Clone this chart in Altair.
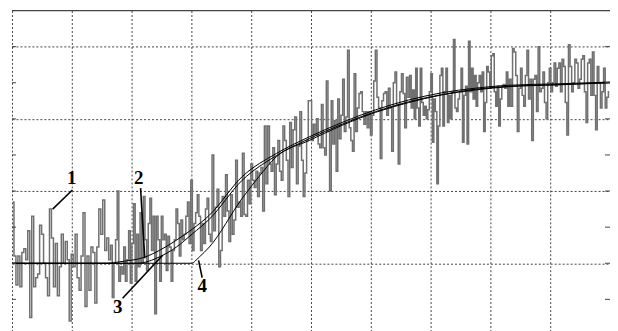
import altair as alt
import pandas as pd

# ---- noisy measured signal (curve 1), read segment by segment ----
seg_edges = [0.0, 1.65, 3.317, 4.983, 6.65, 8.317, 10.0]
sig_a = [3.7, 2.2, 1.4, 2.2, 1.35, 2.3, 2.4, 2.1, 2.9, 0.5, 3.3, 1.35, 1.6, 1.7, 3.05, 2.8, 2.0, 1.6, 1.1, 3.5,
         2.7, 1.35, 2.55, 1.1, 1.9, 2.8, 2.0, 2.6, 2.1, 0.4, 2.25, 1.9, 2.8, 1.6, 1.25, 2.2, 3.4, 0.8, 2.2, 1.25,
         2.45, 2.3, 0.9, 2.45, 3.5, 2.8, 3.75, 2.35, 2.7, 2.1]
sig_b = [2.5, 1.05, 2.0, 2.65, 4.0, 1.5, 1.9, 1.7, 2.45, 1.5, 2.1, 2.9, 1.45, 2.55, 3.65, 1.5, 2.8, 1.9, 3.4, 2.0,
         3.85, 2.65, 1.8, 3.1, 3.8, 2.35, 3.3, 0.6, 3.3, 2.65, 1.5, 3.3, 2.65, 2.8, 1.8, 2.75, 2.45, 1.5, 2.35, 2.65,
         3.5, 3.1, 2.2, 3.2, 2.65, 2.8, 3.3, 3.7, 2.55, 4.3, 2.35, 3.1, 3.4, 3.9, 3.3, 2.35, 3.1, 2.55, 3.5, 3.8, 2.8]
sig_c = [2.6, 5.0, 2.9, 3.55, 4.05, 1.9, 2.35, 3.85, 3.3, 4.45, 3.45, 2.6, 3.9, 2.8, 3.2, 4.85, 3.55, 3.7, 3.3, 5.05,
         3.35, 3.3, 4.3, 3.65, 4.75, 4.3, 4.1, 4.55, 3.85, 4.5, 4.65, 3.45, 5.8, 4.2, 5.8, 4.75, 4.55, 5.2, 3.9, 4.75,
         5.4, 4.55, 4.3, 5.8, 5.4, 4.85, 3.85, 5.9, 4.65, 5.7, 6.05, 4.2, 5.25, 6.2, 4.85, 3.85, 4.5, 5.4, 6.5]
sig_d = [6.5, 5.4, 5.85, 5.55, 6.0, 5.3, 5.2, 6.4, 5.2, 5.0, 7.05, 5.65, 4.0, 6.5, 5.3, 5.95, 4.55, 6.55, 5.45, 6.1,
         7.1, 5.65, 6.05, 7.9, 5.75, 5.4, 5.1, 7.25, 5.65, 6.3, 6.7, 6.75, 6.2, 5.85, 6.2, 5.75, 6.2, 5.55, 6.1, 7.05,
         7.9, 6.6, 6.3, 4.9, 6.5, 6.7, 6.75, 6.1, 6.85, 6.3, 5.1, 7.0, 7.3, 6.4, 4.75, 6.75, 7.25, 6.7, 5.75, 7.15, 6.6]
sig_e = [7.2, 6.3, 6.8, 6.0, 7.4, 6.3, 5.8, 7.4, 6.45, 6.1, 6.35, 6.0, 6.25, 6.75, 7.25, 5.35, 6.55, 6.2, 4.2, 5.8,
         7.2, 7.4, 5.8, 6.75, 7.4, 5.9, 6.65, 6.0, 6.75, 8.2, 6.3, 6.2, 6.55, 6.75, 7.4, 5.35, 6.65, 6.9, 5.3, 8.15,
         6.75, 7.4, 6.55, 7.2, 6.35, 7.0, 7.2, 6.75, 7.3, 5.65, 6.45, 7.45, 7.3, 6.85, 7.75, 7.8, 6.75, 6.35, 6.9, 5.8,
         6.55, 6.9, 6.95, 6.85, 7.3, 6.35]
sig_f = [7.1, 6.35, 7.95, 7.85, 7.2, 5.65, 6.85, 7.4, 6.65, 6.35, 7.2, 7.9, 6.55, 7.1, 5.4, 7.1, 7.2, 6.2, 8.0, 6.75,
         6.85, 7.3, 6.45, 6.0, 7.0, 7.4, 6.75, 7.0, 7.55, 6.9, 7.4, 7.55, 6.75, 7.65, 7.45, 6.45, 5.55, 8.05, 7.45, 6.75,
         7.0, 7.65, 7.55, 6.85, 7.1, 7.65, 7.75, 6.75, 5.9, 7.55, 7.65, 6.65, 7.85, 6.65, 5.7, 7.45, 7.0, 6.3, 6.75, 7.4,
         6.3, 6.6, 6.75]

# ---- smooth curves 2, 3, 4 ----
c2_x = [0, 1.6, 1.8, 2.22, 2.47, 2.75, 3.02, 3.3, 3.85, 4.42, 4.97, 5.52, 6.08, 6.63, 7.18, 7.75, 8.3, 9.13, 10]
c2_y = [2.0, 2.0, 2.04, 2.17, 2.36, 2.64, 2.95, 3.33, 4.4, 5.04, 5.5, 5.9, 6.25, 6.52, 6.72, 6.85, 6.93, 6.97, 7.02]
c3_x = [0, 2.1, 2.47, 2.75, 3.02, 3.3, 3.85, 4.42, 4.97, 5.52, 6.08, 6.63, 7.18, 7.75, 8.3, 9.13, 10]
c3_y = [2.0, 2.0, 2.18, 2.45, 2.82, 3.22, 4.3, 4.98, 5.45, 5.85, 6.2, 6.47, 6.67, 6.82, 6.9, 6.95, 7.0]
c4_x = [0, 3.0, 3.13, 3.3, 3.85, 4.13, 4.42, 4.97, 5.52, 6.08, 6.63, 7.18, 7.75, 8.3, 9.13, 10]
c4_y = [2.0, 2.0, 2.17, 2.45, 3.8, 4.4, 4.95, 5.4, 5.82, 6.18, 6.45, 6.66, 6.8, 6.89, 6.94, 7.0]

# ---- labels and leader lines ----
lab_text = ["1", "2", "3", "4"]
lab_x = [1.0, 2.12, 1.77, 3.18]
lab_y = [4.36, 4.36, 0.8, 1.36]
lead_x1 = [1.01, 2.15, 1.85, 3.18]
lead_y1 = [4.03, 4.08, 1.03, 1.6]
lead_x2 = [0.68, 2.22, 2.52, 3.12]
lead_y2 = [3.5, 2.14, 2.22, 2.08]

x_grid = list(range(0, 11))
y_grid = list(range(0, 10))

# build tables
rows = []
for k, seg in enumerate([sig_a, sig_b, sig_c, sig_d, sig_e, sig_f]):
    a, b = seg_edges[k], seg_edges[k + 1]
    n = len(seg)
    for i, v in enumerate(seg):
        rows.append({"x": a + (i + 0.5) * (b - a) / n, "y": v})
sig_df = pd.DataFrame(rows)

curve_rows = []
for name, xs_, ys_ in [("2", c2_x, c2_y), ("3", c3_x, c3_y), ("4", c4_x, c4_y)]:
    for xv, yv in zip(xs_, ys_):
        curve_rows.append({"curve": name, "x": xv, "y": yv})
curve_df = pd.DataFrame(curve_rows)

lab_df = pd.DataFrame({"t": lab_text, "x": lab_x, "y": lab_y})
lead_df = pd.DataFrame({"x": lead_x1, "y": lead_y1, "x2": lead_x2, "y2": lead_y2})
ygrid_df = pd.DataFrame({"y": y_grid})

xs = alt.Scale(domain=[0, 10], nice=False, zero=False)
ys = alt.Scale(domain=[0, 9], nice=False, zero=False)

xax = alt.Axis(values=x_grid, grid=True, gridDash=[2, 2], gridColor="#444444", gridWidth=1,
               labels=False, ticks=False, domain=False, title=None)
yax = alt.Axis(values=y_grid, grid=True, gridDash=[2, 2], gridColor="#444444", gridWidth=1,
               labels=False, ticks=False, domain=False, title=None)

signal = alt.Chart(sig_df).mark_line(interpolate="step", color="#707070", strokeWidth=1.5).encode(
    x=alt.X("x:Q", scale=xs, axis=xax),
    y=alt.Y("y:Q", scale=ys, axis=yax),
)

curves = alt.Chart(curve_df).mark_line(interpolate="monotone", color="black", strokeWidth=1).encode(
    x=alt.X("x:Q", scale=xs),
    y=alt.Y("y:Q", scale=ys),
    detail="curve:N",
)

top_line = alt.Chart(pd.DataFrame({"y": [9]})).mark_rule(color="#444444", strokeWidth=1.2).encode(
    y=alt.Y("y:Q", scale=ys), x=alt.value(0), x2=alt.value(600)
)

lticks = alt.Chart(ygrid_df).mark_rule(color="#444444", strokeWidth=1).encode(
    y=alt.Y("y:Q", scale=ys), x=alt.value(0), x2=alt.value(4)
)
rticks = alt.Chart(ygrid_df).mark_rule(color="#444444", strokeWidth=1).encode(
    y=alt.Y("y:Q", scale=ys), x=alt.value(595), x2=alt.value(600)
)

leaders = alt.Chart(lead_df).mark_rule(color="black", strokeWidth=1.6).encode(
    x=alt.X("x:Q", scale=xs), y=alt.Y("y:Q", scale=ys),
    x2="x2:Q", y2="y2:Q",
)

labels = alt.Chart(lab_df).mark_text(font="Liberation Serif", fontWeight="bold", fontSize=19,
                                     color="black", align="center", baseline="middle").encode(
    x=alt.X("x:Q", scale=xs), y=alt.Y("y:Q", scale=ys), text="t:N"
)

chart = alt.layer(signal, curves, top_line, lticks, rticks, leaders, labels).properties(
    width=600, height=326,
    autosize=alt.AutoSizeParams(type="none"),
    padding={"left": 4, "top": 2, "right": 0, "bottom": 0},
    background="white",
).configure_view(strokeWidth=0)

chart.save("out.html", embed_options={"renderer": "svg", "actions": False})
